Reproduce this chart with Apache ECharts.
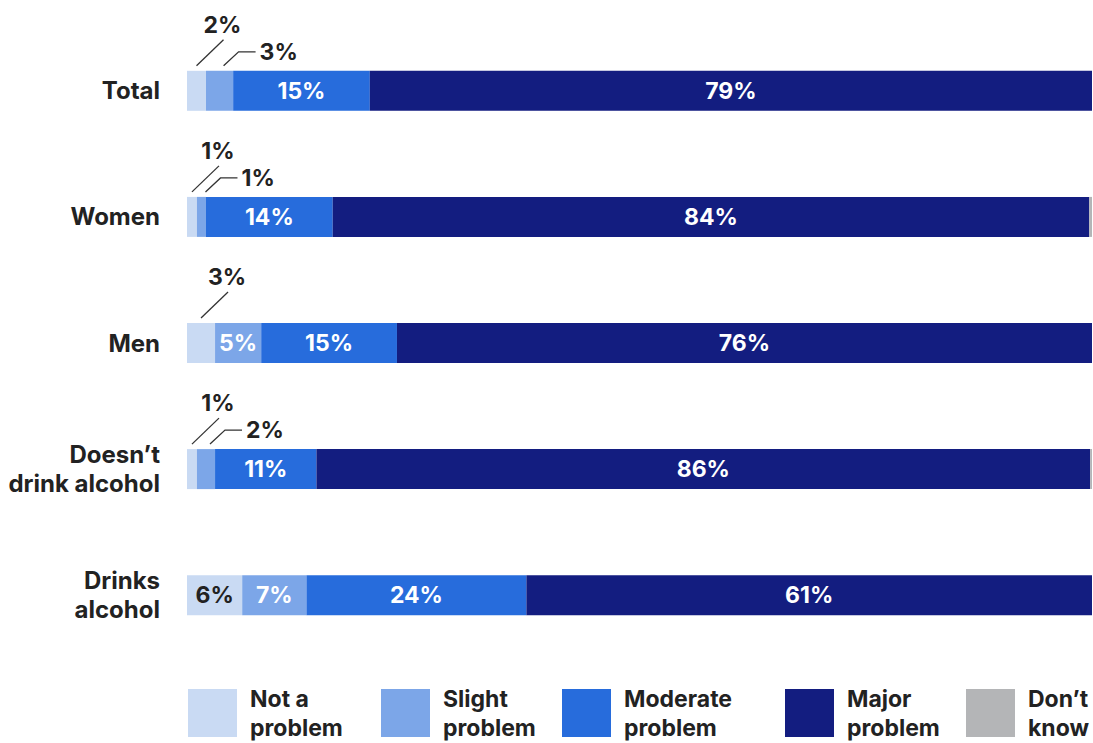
<!DOCTYPE html>
<html>
<head>
<meta charset="utf-8">
<script src="https://cdn.jsdelivr.net/npm/echarts@6/dist/echarts.min.js"></script>
<style>
  html, body { margin: 0; padding: 0; background: #fff; }
  #chart { width: 1093px; height: 743px; }
</style>
</head>
<body>
<div id="chart"></div>
<script>
// categories (top to bottom)
var categories = ['Total', 'Women', 'Men', 'Doesn\u2019t\ndrink alcohol', 'Drinks\nalcohol'];

// segment shares (%)
var notAProblem     = [2.1, 1.1, 3.1, 1.1, 6.1];
var slightProblem   = [3.0, 1.0, 5.1, 2.0, 7.1];
var moderateProblem = [15.1, 14.0, 15.0, 11.2, 24.3];
var majorProblem    = [79.8, 83.6, 76.8, 85.5, 62.5];
var dontKnow        = [0, 0.3, 0, 0.2, 0];

// printed labels
var notAProblemLbl     = [2, 1, 3, 1, 6];
var slightProblemLbl   = [3, 1, 5, 2, 7];
var moderateProblemLbl = [15, 14, 15, 11, 24];
var majorProblemLbl    = [79, 84, 76, 86, 61];
var dontKnowLbl        = [0, 0, 0, 0, 0];

var seriesNames = ['Not a problem', 'Slight problem', 'Moderate problem', 'Major problem', 'Don\u2019t know'];
var legendText  = ['Not a\nproblem', 'Slight\nproblem', 'Moderate\nproblem', 'Major\nproblem', 'Don\u2019t\nknow'];

var colors = ['#c9daf3', '#7ca6e8', '#276cdc', '#131d80', '#b4b5b7'];
var legendLeft = [188, 381, 562, 785, 966];
var FONT = 'Inter, "Noto Sans", sans-serif';
var INK = '#222222';

var values = [notAProblem, slightProblem, moderateProblem, majorProblem, dontKnow];
var printed = [notAProblemLbl, slightProblemLbl, moderateProblemLbl, majorProblemLbl, dontKnowLbl];

var chart = echarts.init(document.getElementById('chart'), null, { renderer: 'svg' });

var series = seriesNames.map(function (name, s) {
  return {
    name: name,
    type: 'bar',
    stack: 'all',
    barWidth: 40,
    itemStyle: { color: colors[s] },
    emphasis: { disabled: true },
    data: values[s].map(function (v) {
      return { value: v, label: { show: v >= 4 && s < 4 } };
    }),
    label: {
      position: 'inside',
      color: s === 0 ? INK : '#fff',
      fontFamily: FONT,
      fontWeight: 'bold',
      fontSize: 23,
      formatter: function (p) { return printed[s][p.dataIndex] + '%'; }
    }
  };
});

var legends = seriesNames.map(function (name, s) {
  return {
    data: [name],
    left: legendLeft[s],
    top: 684,
    padding: 0,
    icon: 'rect',
    itemWidth: 49,
    itemHeight: 48,
    selectedMode: false,
    formatter: function () { return legendText[s]; },
    textStyle: {
      color: INK, fontFamily: FONT, fontWeight: 'bold', fontSize: 23,
      lineHeight: 29, padding: [0, 0, 0, 8]
    }
  };
});

var option = {
  animation: false,
  grid: { left: 187, right: 1, top: 27.75, bottom: 84.75 },
  xAxis: { type: 'value', min: 0, max: 100, show: false },
  yAxis: {
    type: 'category',
    inverse: true,
    data: categories,
    axisLine: { show: false },
    axisTick: { show: false },
    splitLine: { show: false },
    axisLabel: {
      margin: 27,
      color: INK,
      fontFamily: FONT,
      fontWeight: 'bold',
      fontSize: 24,
      lineHeight: 29
    }
  },
  legend: legends,
  series: series
};
chart.setOption(option);

// leader lines + callout labels for the thin segments
var graphics = [];
categories.forEach(function (c, i) {
  var start = 0;
  for (var s = 0; s < 2; s++) {
    var v = values[s][i];
    if (v > 0 && v < 4) {
      var p = chart.convertToPixel({ gridIndex: 0 }, [start + v / 2, i]);
      var top = p[1] - 20;
      if (s === 0) {
        graphics.push({
          type: 'polyline',
          shape: { points: [[p[0], top - 5], [p[0] + 27, top - 31]] },
          style: { stroke: '#333', lineWidth: 1.3, fill: null }
        });
        graphics.push({
          type: 'text', x: p[0] + 26, y: top - 46,
          style: { text: printed[s][i] + '%', fill: INK, fontFamily: FONT, fontWeight: 'bold', fontSize: 23,
                   textAlign: 'center', textVerticalAlign: 'middle' }
        });
      } else {
        var x0 = p[0] + 4;
        graphics.push({
          type: 'polyline',
          shape: { points: [[x0, top - 5], [x0 + 15, top - 19], [x0 + 32, top - 19]] },
          style: { stroke: '#333', lineWidth: 1.3, fill: null }
        });
        graphics.push({
          type: 'text', x: x0 + 36, y: top - 19,
          style: { text: printed[s][i] + '%', fill: INK, fontFamily: FONT, fontWeight: 'bold', fontSize: 23,
                   textAlign: 'left', textVerticalAlign: 'middle' }
        });
      }
    }
    start += v;
  }
});
chart.setOption({ graphic: graphics });
</script>
</body>
</html>
